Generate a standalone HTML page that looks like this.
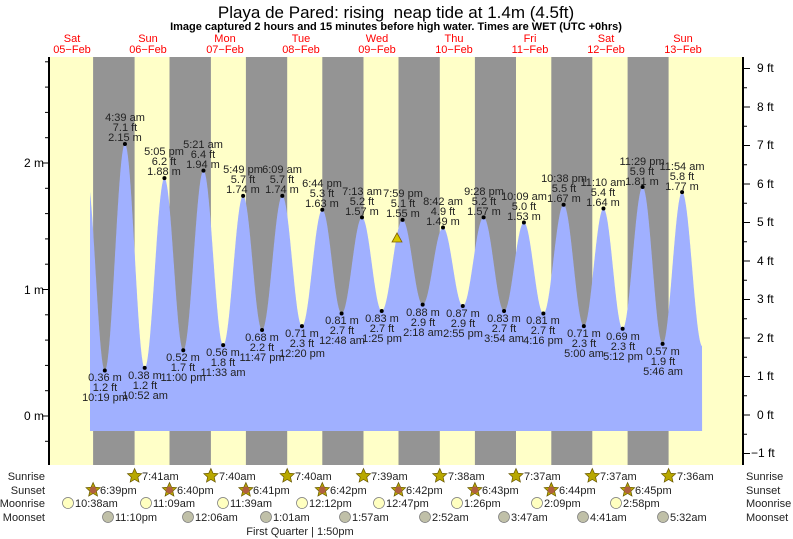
<!DOCTYPE html>
<html><head><meta charset="utf-8"><style>
html,body{margin:0;padding:0;background:#fff;}
svg{display:block;font-family:"Liberation Sans",sans-serif;}
.l{font-size:11px;fill:#222;text-anchor:middle;}
.r{font-size:11px;fill:#222;}
</style></head><body>
<svg id="s" width="793" height="539" viewBox="0 0 793 539">
<rect x="49" y="57" width="694" height="408" fill="#ffffc8"/>
<g fill="#949494">
<rect x="93.1" y="57" width="41.5" height="408"/>
<rect x="169.5" y="57" width="41.4" height="408"/>
<rect x="245.9" y="57" width="41.3" height="408"/>
<rect x="322.3" y="57" width="41.2" height="408"/>
<rect x="398.5" y="57" width="41.3" height="408"/>
<rect x="474.9" y="57" width="41.1" height="408"/>
<rect x="551.3" y="57" width="41" height="408"/>
<rect x="627.6" y="57" width="41" height="408"/>
</g>
<path id="tide" fill="#a0b0ff" d=""/>
<g fill="#000" id="dots"></g>
<line x1="49" y1="57" x2="49" y2="465" stroke="#000" stroke-width="2"/>
<line x1="743" y1="57" x2="743" y2="465" stroke="#000" stroke-width="2"/>
<g stroke="#000" id="ticks"></g>
<g font-size="12" fill="#000">
<text x="44" y="167" text-anchor="end">2 m</text>
<text x="44" y="294" text-anchor="end">1 m</text>
<text x="44" y="420" text-anchor="end">0 m</text>
<text x="757" y="72">9 ft</text><text x="757" y="111">8 ft</text><text x="757" y="149">7 ft</text>
<text x="757" y="188">6 ft</text><text x="757" y="226">5 ft</text><text x="757" y="265">4 ft</text>
<text x="757" y="303">3 ft</text><text x="757" y="342">2 ft</text><text x="757" y="380">1 ft</text>
<text x="757" y="419">0 ft</text><text x="751" y="457">−1 ft</text>
</g>
<text x="396" y="18" font-size="17" text-anchor="middle" fill="#000">Playa de Pared: rising &#160;neap tide at 1.4m (4.5ft)</text>
<text x="396" y="30" font-size="11" font-weight="bold" text-anchor="middle" fill="#000">Image captured 2 hours and 15 minutes before high water. Times are WET (UTC +0hrs)</text>
<g font-size="11" fill="#f00" text-anchor="middle">
<text x="72" y="42">Sat</text><text x="72" y="53">05−Feb</text>
<text x="148" y="42">Sun</text><text x="148" y="53">06−Feb</text>
<text x="225" y="42">Mon</text><text x="225" y="53">07−Feb</text>
<text x="301" y="42">Tue</text><text x="301" y="53">08−Feb</text>
<text x="377" y="42">Wed</text><text x="377" y="53">09−Feb</text>
<text x="454" y="42">Thu</text><text x="454" y="53">10−Feb</text>
<text x="530" y="42">Fri</text><text x="530" y="53">11−Feb</text>
<text x="606" y="42">Sat</text><text x="606" y="53">12−Feb</text>
<text x="683" y="42">Sun</text><text x="683" y="53">13−Feb</text>
</g>
<g class="l">
<text x="125" y="121" class="l">4:39 am</text><text x="125" y="131" class="l">7.1 ft</text><text x="125" y="141" class="l">2.15 m</text>
<text x="164" y="155" class="l">5:05 pm</text><text x="164" y="165" class="l">6.2 ft</text><text x="164" y="175" class="l">1.88 m</text>
<text x="203" y="148" class="l">5:21 am</text><text x="203" y="158" class="l">6.4 ft</text><text x="203" y="168" class="l">1.94 m</text>
<text x="243" y="173" class="l">5:49 pm</text><text x="243" y="183" class="l">5.7 ft</text><text x="243" y="193" class="l">1.74 m</text>
<text x="282" y="173" class="l">6:09 am</text><text x="282" y="183" class="l">5.7 ft</text><text x="282" y="193" class="l">1.74 m</text>
<text x="322" y="187" class="l">6:44 pm</text><text x="322" y="197" class="l">5.3 ft</text><text x="322" y="207" class="l">1.63 m</text>
<text x="362" y="195" class="l">7:13 am</text><text x="362" y="205" class="l">5.2 ft</text><text x="362" y="215" class="l">1.57 m</text>
<text x="403" y="197" class="l">7:59 pm</text><text x="403" y="207" class="l">5.1 ft</text><text x="403" y="217" class="l">1.55 m</text>
<text x="443" y="205" class="l">8:42 am</text><text x="443" y="215" class="l">4.9 ft</text><text x="443" y="225" class="l">1.49 m</text>
<text x="484" y="195" class="l">9:28 pm</text><text x="484" y="205" class="l">5.2 ft</text><text x="484" y="215" class="l">1.57 m</text>
<text x="524" y="200" class="l">10:09 am</text><text x="524" y="210" class="l">5.0 ft</text><text x="524" y="220" class="l">1.53 m</text>
<text x="564" y="182" class="l">10:38 pm</text><text x="564" y="192" class="l">5.5 ft</text><text x="564" y="202" class="l">1.67 m</text>
<text x="603" y="186" class="l">11:10 am</text><text x="603" y="196" class="l">5.4 ft</text><text x="603" y="206" class="l">1.64 m</text>
<text x="642" y="165" class="l">11:29 pm</text><text x="642" y="175" class="l">5.9 ft</text><text x="642" y="185" class="l">1.81 m</text>
<text x="682" y="170" class="l">11:54 am</text><text x="682" y="180" class="l">5.8 ft</text><text x="682" y="190" class="l">1.77 m</text>
</g>
<g>
<text x="105" y="381" class="l">0.36 m</text><text x="105" y="391" class="l">1.2 ft</text><text x="105" y="401" class="l">10:19 pm</text>
<text x="145" y="379" class="l">0.38 m</text><text x="145" y="389" class="l">1.2 ft</text><text x="145" y="399" class="l">10:52 am</text>
<text x="183" y="361" class="l">0.52 m</text><text x="183" y="371" class="l">1.7 ft</text><text x="183" y="381" class="l">11:00 pm</text>
<text x="223" y="356" class="l">0.56 m</text><text x="223" y="366" class="l">1.8 ft</text><text x="223" y="376" class="l">11:33 am</text>
<text x="262" y="341" class="l">0.68 m</text><text x="262" y="351" class="l">2.2 ft</text><text x="262" y="361" class="l">11:47 pm</text>
<text x="302" y="337" class="l">0.71 m</text><text x="302" y="347" class="l">2.3 ft</text><text x="302" y="357" class="l">12:20 pm</text>
<text x="342" y="324" class="l">0.81 m</text><text x="342" y="334" class="l">2.7 ft</text><text x="342" y="344" class="l">12:48 am</text>
<text x="382" y="322" class="l">0.83 m</text><text x="382" y="332" class="l">2.7 ft</text><text x="382" y="342" class="l">1:25 pm</text>
<text x="423" y="316" class="l">0.88 m</text><text x="423" y="326" class="l">2.9 ft</text><text x="423" y="336" class="l">2:18 am</text>
<text x="463" y="317" class="l">0.87 m</text><text x="463" y="327" class="l">2.9 ft</text><text x="463" y="337" class="l">2:55 pm</text>
<text x="504" y="322" class="l">0.83 m</text><text x="504" y="332" class="l">2.7 ft</text><text x="504" y="342" class="l">3:54 am</text>
<text x="543" y="324" class="l">0.81 m</text><text x="543" y="334" class="l">2.7 ft</text><text x="543" y="344" class="l">4:16 pm</text>
<text x="584" y="337" class="l">0.71 m</text><text x="584" y="347" class="l">2.3 ft</text><text x="584" y="357" class="l">5:00 am</text>
<text x="623" y="340" class="l">0.69 m</text><text x="623" y="350" class="l">2.3 ft</text><text x="623" y="360" class="l">5:12 pm</text>
<text x="663" y="355" class="l">0.57 m</text><text x="663" y="365" class="l">1.9 ft</text><text x="663" y="375" class="l">5:46 am</text>
</g>
<polygon points="397,233 402,242 392,242" fill="#d8c800" stroke="#806000" stroke-width="0.8"/>
<g font-size="11" fill="#222">
<text x="45" y="480" text-anchor="end">Sunrise</text>
<text x="45" y="494" text-anchor="end">Sunset</text>
<text x="45" y="507" text-anchor="end">Moonrise</text>
<text x="45" y="521" text-anchor="end">Moonset</text>
<text x="746" y="480">Sunrise</text>
<text x="746" y="494">Sunset</text>
<text x="746" y="507">Moonrise</text>
<text x="746" y="521">Moonset</text>
<text x="300" y="535" text-anchor="middle">First Quarter | 1:50pm</text>
</g>
<g id="icons"></g>
<g font-size="11" fill="#222">
<text x="142" y="480">7:41am</text><text x="219" y="480">7:40am</text><text x="295" y="480">7:40am</text><text x="371" y="480">7:39am</text>
<text x="448" y="480">7:38am</text><text x="524" y="480">7:37am</text><text x="600" y="480">7:37am</text><text x="677" y="480">7:36am</text>
<text x="100" y="494">6:39pm</text><text x="177" y="494">6:40pm</text><text x="253" y="494">6:41pm</text><text x="330" y="494">6:42pm</text>
<text x="406" y="494">6:42pm</text><text x="482" y="494">6:43pm</text><text x="559" y="494">6:44pm</text><text x="635" y="494">6:45pm</text>
<text x="75" y="507">10:38am</text><text x="153" y="507">11:09am</text><text x="230" y="507">11:39am</text><text x="309" y="507">12:12pm</text>
<text x="386" y="507">12:47pm</text><text x="464" y="507">1:26pm</text><text x="544" y="507">2:09pm</text><text x="623" y="507">2:58pm</text>
<text x="115" y="521">11:10pm</text><text x="195" y="521">12:06am</text><text x="273" y="521">1:01am</text><text x="352" y="521">1:57am</text>
<text x="432" y="521">2:52am</text><text x="511" y="521">3:47am</text><text x="590" y="521">4:41am</text><text x="670" y="521">5:32am</text>
</g>
</svg>
<script>
(function(){
var NS="http://www.w3.org/2000/svg";
function X(h){return 72+(h-12)*76.3/24;}
function Y(m){return 416-m*126.5;}
var ex=[[16.6,1.9],[22.32,.36],[28.65,2.15],[34.87,.38],[41.08,1.88],[47,.52],[53.35,1.94],[59.55,.56],[65.82,1.74],[71.78,.68],[78.15,1.74],[84.33,.71],[90.73,1.63],[96.8,.81],[103.22,1.57],[109.42,.83],[115.98,1.55],[122.3,.88],[128.7,1.49],[134.92,.87],[141.47,1.57],[147.9,.83],[154.15,1.53],[160.27,.81],[166.63,1.67],[173,.71],[179.17,1.64],[185.2,.69],[191.48,1.81],[197.77,.57],[203.9,1.77],[210.3,.55]];
var h0=17.67,h1=210.2,d="M"+X(h0).toFixed(1)+",431";
for(var h=h0;h<=h1;h+=0.05){
 for(var i=0;i<ex.length-1;i++){if(h>=ex[i][0]&&h<=ex[i+1][0])break;}
 var a=ex[i],b=ex[i+1],f=(h-a[0])/(b[0]-a[0]);
 var v=a[1]+(b[1]-a[1])*(1-Math.cos(Math.PI*f))/2;
 d+=" L"+X(h).toFixed(1)+","+Y(v).toFixed(1);
}
d+=" L"+X(h1).toFixed(1)+",431 Z";
document.getElementById("tide").setAttribute("d",d);
var dots=document.getElementById("dots");
for(var i=1;i<ex.length-1;i++){var c=document.createElementNS(NS,"circle");c.setAttribute("cx",X(ex[i][0]));c.setAttribute("cy",Y(ex[i][1]));c.setAttribute("r",2);dots.appendChild(c);}
var t=document.getElementById("ticks");
function ln(x1,y1,x2,y2){var l=document.createElementNS(NS,"line");l.setAttribute("x1",x1);l.setAttribute("y1",y1);l.setAttribute("x2",x2);l.setAttribute("y2",y2);t.appendChild(l);}
for(var k=-6;k<=14;k++){var y=416-k*25.3;if(y<57||y>465)continue;ln(49,y,k%5==0?42:45,y);}
for(var k=-2;k<=18;k++){var y=415-k*19.25;if(y<57||y>465)continue;ln(743,y,k%2==0?750:747,y);}
var ic=document.getElementById("icons");
function star(cx,cy,fill,inner){var p="";for(var j=0;j<10;j++){var r=j%2?3.5:7.5,a=-Math.PI/2+j*Math.PI/5;p+=(cx+r*Math.cos(a)).toFixed(1)+","+(cy+r*Math.sin(a)).toFixed(1)+" ";}
 var s=document.createElementNS(NS,"polygon");s.setAttribute("points",p);s.setAttribute("fill",fill);s.setAttribute("stroke","#665500");s.setAttribute("stroke-width","0.7");ic.appendChild(s);
 if(inner){var c=document.createElementNS(NS,"circle");c.setAttribute("cx",cx);c.setAttribute("cy",cy);c.setAttribute("r",3.5);c.setAttribute("fill",inner);ic.appendChild(c);}}
function moon(cx,cy,fill){var c=document.createElementNS(NS,"circle");c.setAttribute("cx",cx);c.setAttribute("cy",cy);c.setAttribute("r",5.5);c.setAttribute("fill",fill);c.setAttribute("stroke","#777");c.setAttribute("stroke-width","0.7");ic.appendChild(c);}
[134.6,210.9,287.2,363.5,439.8,516,592.3,668.6].forEach(function(x){star(x,476,"#b8a800");});
[93.1,169.5,245.9,322.3,398.5,474.9,551.3,627.6].forEach(function(x){star(x,490,"#b8a800","#b06040");});
[68,146,223,302,379,457,537,616].forEach(function(x){moon(x,503,"#ffffc0");});
[108,188,266,345,425,504,583,663].forEach(function(x){moon(x,517,"#c0c0a8");});
})();
</script>
</body></html>
